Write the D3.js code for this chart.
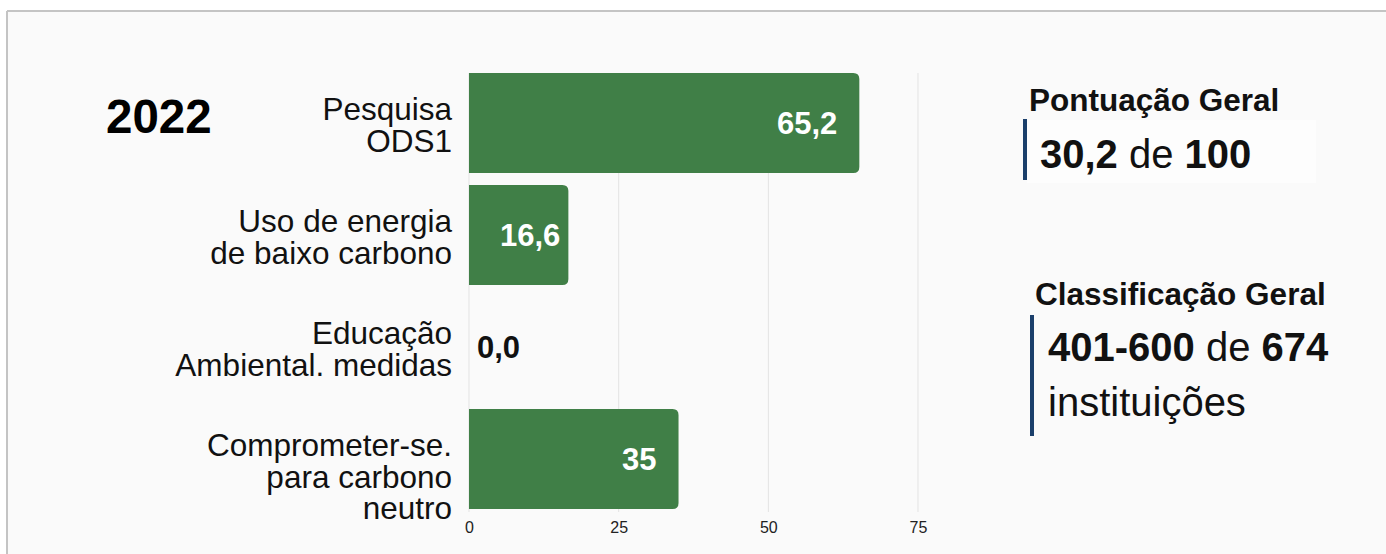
<!DOCTYPE html>
<html>
<head>
<meta charset="utf-8">
<script src="https://cdn.jsdelivr.net/npm/d3@7"></script>
<style>
  html, body { margin: 0; padding: 0; background: #ffffff; }
  svg { display: block; font-family: "Liberation Sans", Arial, sans-serif; }
</style>
</head>
<body>
<svg id="chart" width="1386" height="554"></svg>
<script>
// Indicator categories (each label split into display lines)
const categories = [
  ["Pesquisa", "ODS1"],
  ["Uso de energia", "de baixo carbono"],
  ["Educação", "Ambiental. medidas"],
  ["Comprometer-se.", "para carbono", "neutro"]
];
const scores = [65.2, 16.6, 0.0, 35];
const scoreLabels = ["65,2", "16,6", "0,0", "35"];
const xTicks = [0, 25, 50, 75];
const yearLabel = "2022";
const overallScore = "30,2";
const overallMax = "100";
const rankRange = "401-600";
const rankTotal = "674";

const svg = d3.select("#chart");
const W = 1386, H = 554;
const green = "#407f47";
const navy = "#1b3f6b";
const FONT = "'Liberation Sans', Arial, sans-serif";

// panel background and frame
svg.append("rect").attr("x", 0).attr("y", 0).attr("width", W).attr("height", H).attr("fill", "#ffffff");
svg.append("rect").attr("x", 8).attr("y", 12).attr("width", W - 8).attr("height", H - 12).attr("fill", "#fafafa");
svg.append("line").attr("x1", 7).attr("x2", W).attr("y1", 11).attr("y2", 11).attr("stroke", "#c4c4c4").attr("stroke-width", 2);
svg.append("line").attr("x1", 7).attr("x2", 7).attr("y1", 11).attr("y2", H).attr("stroke", "#c4c4c4").attr("stroke-width", 2);

const x = d3.scaleLinear().domain([0, 75]).range([469, 918]);
const y = d3.scaleBand().domain(d3.range(categories.length)).range([73, 509])
  .paddingInner(12 / 112).paddingOuter(0);

// vertical grid lines
svg.append("g").selectAll("line").data(xTicks).join("line")
  .attr("x1", d => x(d)).attr("x2", d => x(d))
  .attr("y1", 73).attr("y2", 512)
  .attr("stroke", "#e3e3e3").attr("stroke-width", 1);

// x axis tick labels
const xAxis = d3.axisBottom(x).tickValues(xTicks).tickSize(0).tickPadding(0).tickFormat(d3.format("d"));
const gx = svg.append("g").attr("transform", "translate(0,522)").call(xAxis)
  .attr("font-family", FONT).attr("font-size", 16);
gx.select(".domain").remove();
gx.selectAll("text").attr("fill", "#222").attr("dy", "0.71em");

// bars with rounded right end only
const r = 6;
function barPath(i) {
  const x0 = x(0), x1 = x(scores[i]), y0 = y(i), h = y.bandwidth();
  const w = x1 - x0;
  if (w <= 0) return "";
  const rr = Math.min(r, w);
  return `M${x0},${y0}H${x1 - rr}Q${x1},${y0} ${x1},${y0 + rr}V${y0 + h - rr}Q${x1},${y0 + h} ${x1 - rr},${y0 + h}H${x0}Z`;
}
svg.append("g").selectAll("path").data(d3.range(scores.length)).join("path")
  .attr("d", i => barPath(i)).attr("fill", green);

// value labels
const vl = svg.append("g").selectAll("text").data(d3.range(scores.length)).join("text")
  .attr("y", i => y(i) + y.bandwidth() / 2)
  .attr("dy", "0.36em")
  .attr("font-size", 31).attr("font-weight", "bold")
  .text(i => scoreLabels[i]);
vl.each(function (i) {
  const t = d3.select(this);
  const bw = this.getComputedTextLength();
  const barW = x(scores[i]) - x(0);
  if (barW < bw + 20) {
    // too short: label outside in dark text
    t.attr("x", x(scores[i]) + 8).attr("text-anchor", "start").attr("fill", "#111");
  } else {
    const end = Math.max(x(scores[i]) - 22, x(0) + 31 + bw);
    t.attr("x", Math.min(end, x(scores[i]) - 7)).attr("text-anchor", "end").attr("fill", "#ffffff");
  }
});

// category labels: first line sits just above the band centre, further lines below
const lineH = 31.5;
const cl = svg.append("g").selectAll("text").data(d3.range(categories.length)).join("text")
  .attr("text-anchor", "end").attr("font-size", 31.5).attr("fill", "#111");
cl.each(function (i) {
  const lines = categories[i];
  const first = y(i) + y.bandwidth() / 2 - 14;
  d3.select(this).selectAll("tspan").data(lines).join("tspan")
    .attr("x", 452).attr("y", (d, k) => first + k * lineH).attr("dy", "0.36em")
    .text(d => d);
});

// year
svg.append("text").attr("x", 106).attr("y", 133).attr("font-size", 47.5).attr("font-weight", "bold")
  .attr("fill", "#000").text(yearLabel);

// overall score panel
svg.append("text").attr("x", 1029).attr("y", 111).attr("font-size", 31.5).attr("font-weight", "bold")
  .attr("fill", "#111").text("Pontuação Geral");
svg.append("rect").attr("x", 1027).attr("y", 120).attr("width", 289).attr("height", 63).attr("fill", "#fdfdfd");
svg.append("rect").attr("x", 1023).attr("y", 119).attr("width", 4).attr("height", 61).attr("fill", navy);
const t1 = svg.append("text").attr("x", 1040).attr("y", 168).attr("font-size", 40).attr("fill", "#111");
t1.append("tspan").attr("font-weight", "bold").text(overallScore);
t1.append("tspan").text(" de ");
t1.append("tspan").attr("font-weight", "bold").text(overallMax);

// overall ranking panel
svg.append("text").attr("x", 1035).attr("y", 305).attr("font-size", 31.5).attr("font-weight", "bold")
  .attr("fill", "#111").text("Classificação Geral");
svg.append("rect").attr("x", 1030).attr("y", 315).attr("width", 4).attr("height", 121).attr("fill", navy);
const t2 = svg.append("text").attr("x", 1048).attr("y", 361).attr("font-size", 40).attr("fill", "#111");
t2.append("tspan").attr("font-weight", "bold").text(rankRange);
t2.append("tspan").text(" de ");
t2.append("tspan").attr("font-weight", "bold").text(rankTotal);
svg.append("text").attr("x", 1048).attr("y", 416).attr("font-size", 40).attr("fill", "#111").text("instituições");
</script>
</body>
</html>
